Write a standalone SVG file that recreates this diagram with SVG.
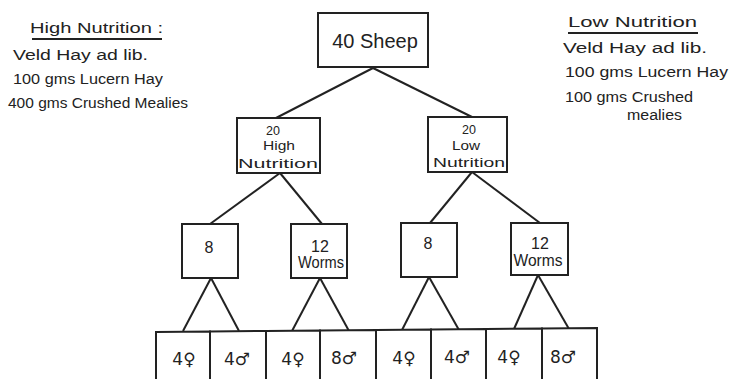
<svg xmlns="http://www.w3.org/2000/svg" width="730" height="379" viewBox="0 0 730 379">
<style>
.box{fill:#fff;stroke:#222;stroke-width:2}
.ln{stroke:#222;stroke-width:2;fill:none}
text{font-family:"Liberation Sans","DejaVu Sans",sans-serif;fill:#222}
.note{font-size:14px}
.head{font-size:15px}
.lbl{font-size:12.5px;text-anchor:middle}
.mid{font-size:16px;text-anchor:middle}
.sex{font-family:"DejaVu Sans",sans-serif;font-size:17px;text-anchor:middle}
</style>
<rect width="730" height="379" fill="#fff"/>
<g id="notes-high">
<text class="head" x="30" y="33" textLength="133" lengthAdjust="spacingAndGlyphs">High Nutrition :</text>
<line class="ln" x1="32" y1="39" x2="162" y2="39" stroke-width="1.5"/>
<text class="note" x="13" y="60" textLength="135" lengthAdjust="spacingAndGlyphs">Veld Hay ad lib.</text>
<text class="note" x="13" y="84" textLength="150" lengthAdjust="spacingAndGlyphs">100 gms Lucern Hay</text>
<text class="note" x="8" y="108" textLength="180" lengthAdjust="spacingAndGlyphs">400 gms Crushed Mealies</text>
</g>
<g id="notes-low">
<text class="head" x="568" y="27" textLength="129" lengthAdjust="spacingAndGlyphs">Low Nutrition</text>
<line class="ln" x1="568" y1="33" x2="698" y2="33" stroke-width="1.5"/>
<text class="note" x="563" y="53" textLength="144" lengthAdjust="spacingAndGlyphs">Veld Hay ad lib.</text>
<text class="note" x="565" y="77" textLength="163" lengthAdjust="spacingAndGlyphs">100 gms Lucern Hay</text>
<text class="note" x="565" y="102" textLength="128" lengthAdjust="spacingAndGlyphs">100 gms Crushed</text>
<text class="note" x="627" y="120" textLength="55" lengthAdjust="spacingAndGlyphs" font-size="12">mealies</text>
</g>
<g id="connectors">
<line class="ln" x1="373" y1="68" x2="276" y2="118"/>
<line class="ln" x1="373" y1="68" x2="472" y2="117"/>
<line class="ln" x1="280" y1="173" x2="210" y2="224"/>
<line class="ln" x1="280" y1="173" x2="322" y2="224"/>
<line class="ln" x1="472" y1="172" x2="430" y2="223"/>
<line class="ln" x1="472" y1="172" x2="540" y2="223"/>
<line class="ln" x1="211" y1="278" x2="183" y2="331"/>
<line class="ln" x1="211" y1="278" x2="239" y2="331"/>
<line class="ln" x1="320" y1="278" x2="292" y2="331"/>
<line class="ln" x1="320" y1="278" x2="349" y2="331"/>
<line class="ln" x1="429" y1="277" x2="402" y2="330"/>
<line class="ln" x1="429" y1="277" x2="459" y2="330"/>
<line class="ln" x1="538" y1="275" x2="514" y2="329"/>
<line class="ln" x1="538" y1="275" x2="569" y2="329"/>
</g>
<g id="n-root">
<rect class="box" x="318" y="13" width="110" height="54"/>
<text x="375" y="48" font-size="20" text-anchor="middle">40 Sheep</text>
</g>
<g id="n-high">
<rect class="box" x="237" y="118" width="83" height="55"/>
<text class="lbl" x="273" y="135">20</text>
<text class="lbl" x="279" y="150" textLength="32" lengthAdjust="spacingAndGlyphs">High</text>
<text class="lbl" x="278" y="168" textLength="80" lengthAdjust="spacingAndGlyphs">Nutrition</text>
</g>
<g id="n-low">
<rect class="box" x="428" y="117" width="79" height="55"/>
<text class="lbl" x="469" y="134">20</text>
<text class="lbl" x="466" y="150" textLength="28" lengthAdjust="spacingAndGlyphs">Low</text>
<text class="lbl" x="469" y="167" textLength="72" lengthAdjust="spacingAndGlyphs">Nutrition</text>
</g>
<g id="n-h8">
<rect class="box" x="182" y="224" width="56" height="54"/>
<text class="mid" x="209" y="253">8</text>
</g>
<g id="n-h12">
<rect class="box" x="291" y="224" width="56" height="54"/>
<text class="mid" x="320" y="252">12</text>
<text class="mid" x="321" y="268" textLength="46" lengthAdjust="spacingAndGlyphs">Worms</text>
</g>
<g id="n-l8">
<rect class="box" x="401" y="223" width="56" height="54"/>
<text class="mid" x="428" y="249">8</text>
</g>
<g id="n-l12">
<rect class="box" x="511" y="223" width="57" height="52"/>
<text class="mid" x="540" y="249">12</text>
<text class="mid" x="538" y="266" textLength="49" lengthAdjust="spacingAndGlyphs">Worms</text>
</g>
<g id="n-b1"><path class="box" d="M156,332 L210,331.5 L210,385 L156,385 Z"/><text class="sex" x="184" y="365">4♀</text></g>
<g id="n-b2"><path class="box" d="M210,331.5 L266,331 L266,385 L210,385 Z"/><text class="sex" x="237" y="365">4♂</text></g>
<g id="n-b3"><path class="box" d="M266,331 L320,330.5 L320,385 L266,385 Z"/><text class="sex" x="293" y="365">4♀</text></g>
<g id="n-b4"><path class="box" d="M320,330.5 L376,330 L376,385 L320,385 Z"/><text class="sex" x="344" y="364">8♂</text></g>
<g id="n-b5"><path class="box" d="M376,330 L431,329.5 L431,385 L376,385 Z"/><text class="sex" x="404" y="364">4♀</text></g>
<g id="n-b6"><path class="box" d="M431,329.5 L486,329 L486,385 L431,385 Z"/><text class="sex" x="457" y="363">4♂</text></g>
<g id="n-b7"><path class="box" d="M486,329 L542,328.5 L542,385 L486,385 Z"/><text class="sex" x="509" y="363">4♀</text></g>
<g id="n-b8"><path class="box" d="M542,328.5 L597,328 L597,385 L542,385 Z"/><text class="sex" x="563" y="363">8♂</text></g>
</svg>
